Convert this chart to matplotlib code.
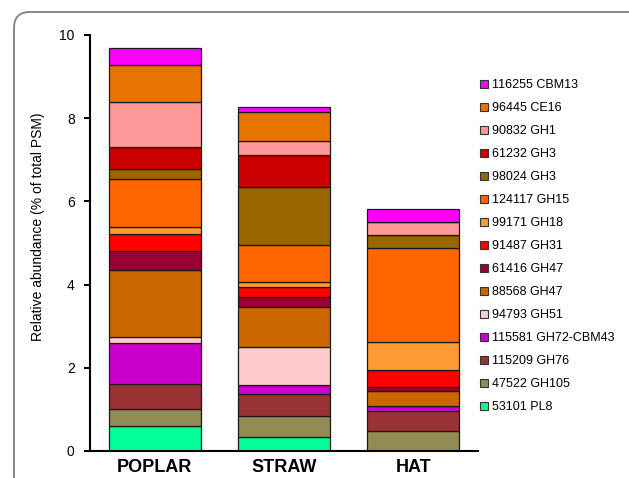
import matplotlib
matplotlib.use("Agg")
import matplotlib.pyplot as plt
import numpy as np
from matplotlib.patches import FancyBboxPatch, Patch
from matplotlib.transforms import IdentityTransform

plt.rcParams['font.family'] = ['Liberation Sans', 'DejaVu Sans']

samples = ['POPLAR', 'STRAW', 'HAT']

# stacking order, bottom to top
proteins = ['53101 PL8', '47522 GH105', '115209 GH76', '115581 GH72-CBM43',
            '94793 GH51', '88568 GH47', '61416 GH47', '91487 GH31',
            '99171 GH18', '124117 GH15', '98024 GH3', '61232 GH3',
            '90832 GH1', '96445 CE16', '116255 CBM13']

colors = ['#00FF99', '#948A54', '#993333', '#CC00CC',
          '#FFCCCC', '#CC6600', '#990033', '#FF0000',
          '#FF9933', '#FF6600', '#996600', '#CC0000',
          '#FF9999', '#E87400', '#FF00FF']

poplar = [0.60, 0.42, 0.59, 0.99, 0.14, 1.61, 0.46, 0.40, 0.17, 1.17, 0.23, 0.52, 1.08, 0.91, 0.40]
straw = [0.34, 0.49, 0.54, 0.22, 0.91, 0.96, 0.24, 0.25, 0.11, 0.89, 1.40, 0.76, 0.34, 0.70, 0.11]
hat = [0.00, 0.47, 0.49, 0.12, 0.00, 0.36, 0.10, 0.41, 0.68, 2.25, 0.32, 0.00, 0.30, 0.00, 0.32]

data = np.array([poplar, straw, hat]).T  # rows = proteins

fig = plt.figure(figsize=(6.29, 4.78), dpi=100)
ax = fig.add_axes([90/629, 1 - 451/478, (478 - 90)/629, (451 - 35)/478])

x = np.arange(len(samples))
bottom = np.zeros(len(samples))
for vals, col in zip(data, colors):
    ax.bar(x, vals, width=0.71, bottom=bottom, color=col,
           edgecolor='#1a1a1a', linewidth=0.9)
    bottom += vals

ax.set_xlim(-0.5, 2.5)
ax.set_ylim(0, 10)
ax.set_yticks([0, 2, 4, 6, 8, 10])
ax.set_xticks(x)
ax.set_xticklabels(samples, fontsize=13, fontweight='bold')
ax.tick_params(axis='x', length=0, pad=6)
ax.tick_params(axis='y', labelsize=10, length=4, width=1.4, pad=7)
for s in ['top', 'right']:
    ax.spines[s].set_visible(False)
for s in ['left', 'bottom']:
    ax.spines[s].set_linewidth(1.5)
ax.set_ylabel('Relative abundance (% of total PSM)', fontsize=10)
ax.yaxis.set_label_coords(-0.115, 0.54)

handles = [Patch(facecolor=c, edgecolor='#333333', linewidth=0.8) for c in colors]
fig.legend(handles[::-1], proteins[::-1], loc='upper left',
           bbox_to_anchor=(474/629, 1 - 73/478), frameon=False,
           fontsize=9, handlelength=0.65, handleheight=0.65,
           handletextpad=0.25, labelspacing=0.88, borderpad=0)

frame = FancyBboxPatch((14, -60), 700, 478 - 12 + 60,
                       boxstyle='round,pad=0,rounding_size=16',
                       transform=IdentityTransform(), facecolor='none',
                       edgecolor='#7f7f7f', linewidth=1.3, clip_on=False)
fig.patches.append(frame)

fig.savefig('out.png', dpi=100)
